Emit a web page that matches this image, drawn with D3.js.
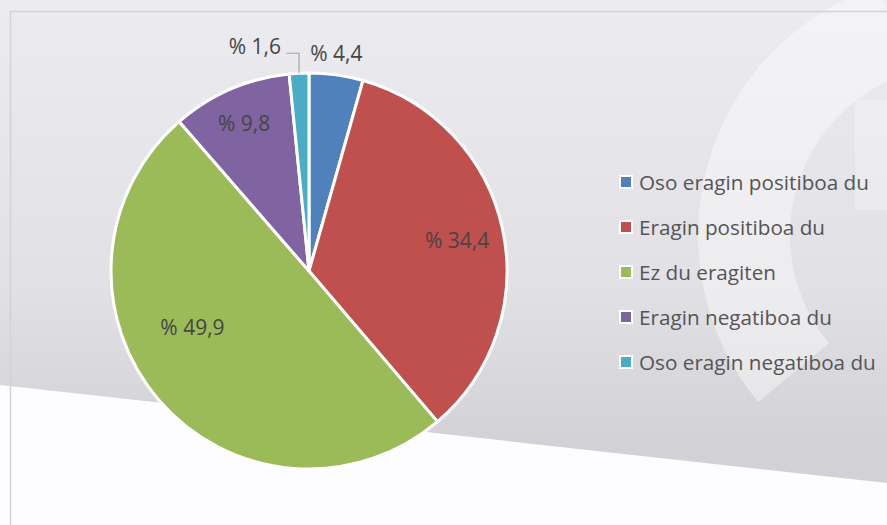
<!DOCTYPE html>
<html>
<head>
<meta charset="utf-8">
<script src="https://cdn.jsdelivr.net/npm/d3@7"></script>
<style>
  html, body { margin: 0; padding: 0; background: #efeff1; }
  svg { display: block; }
</style>
</head>
<body>
<svg width="887" height="525"></svg>
<script>
const categories = [
  "Oso eragin positiboa du",
  "Eragin positiboa du",
  "Ez du eragiten",
  "Eragin negatiboa du",
  "Oso eragin negatiboa du"
];
const values = [4.4, 34.4, 49.9, 9.8, 1.6];
const labels = ["% 4,4", "% 34,4", "% 49,9", "% 9,8", "% 1,6"];
const colors = ["#4f81bd", "#c0504d", "#9bbb59", "#8064a2", "#4bacc6"];

const svg = d3.select("svg");
const width = +svg.attr("width");
const height = +svg.attr("height");
const cx = 309;
const cy = 271;
const radius = 198;
const textColor = "#454545";
const font = "'Open Sans', sans-serif";

// background, roughly the slide behind the chart
const defs = svg.append("defs");
const bg = defs.append("linearGradient")
  .attr("id", "bg")
  .attr("x1", 0).attr("y1", 0).attr("x2", 0).attr("y2", 1);
bg.append("stop").attr("offset", "0%").attr("stop-color", "#ecebef");
bg.append("stop").attr("offset", "55%").attr("stop-color", "#e1e0e5");
bg.append("stop").attr("offset", "85%").attr("stop-color", "#d2d1d6");

svg.append("rect")
  .attr("x", 0).attr("y", 0)
  .attr("width", width).attr("height", height)
  .attr("fill", "url(#bg)");

// watermark arc on the right
svg.append("path")
  .attr("transform", "translate(960,235)")
  .attr("d", d3.arc()({
    innerRadius: 170,
    outerRadius: 262,
    startAngle: -Math.PI * 0.72,
    endAngle: -Math.PI * 0.1
  }))
  .attr("fill", "#ffffff")
  .attr("opacity", 0.4);

svg.append("rect")
  .attr("x", 855).attr("y", 100)
  .attr("width", 40).attr("height", 110)
  .attr("fill", "#ffffff")
  .attr("opacity", 0.25);

// white area under the diagonal
svg.append("path")
  .attr("d", `M0,385 L${width},483 L${width},${height} L0,${height} Z`)
  .attr("fill", "#fdfcfe");

// chart frame
svg.append("path")
  .attr("d", `M10.5,${height} L10.5,11.5 L${width},11.5`)
  .attr("fill", "none")
  .attr("stroke", "#d3d3d7")
  .attr("stroke-width", 1.5);

// pie
const pie = d3.pie().sort(null).value(d => d);
const arcs = pie(values);
const arc = d3.arc().innerRadius(0).outerRadius(radius);

const g = svg.append("g")
  .attr("transform", `translate(${cx},${cy})`);

g.selectAll("path.slice")
  .data(arcs)
  .join("path")
  .attr("class", "slice")
  .attr("d", arc)
  .attr("fill", (d, i) => colors[i])
  .attr("stroke", "#ffffff")
  .attr("stroke-width", 3)
  .attr("stroke-linejoin", "round");

// data labels
const inner = d3.arc().innerRadius(radius * 0.75).outerRadius(radius * 0.75);
const outer = d3.arc().innerRadius(radius + 22).outerRadius(radius + 22);
const nudge = [[0, 0], [3, 1], [-4, -41], [-6, -12], [0, 0]];
const labelSize = 21;

[1, 2, 3].forEach(i => {
  const [x, y] = inner.centroid(arcs[i]);
  g.append("text")
    .attr("x", x + nudge[i][0])
    .attr("y", y + nudge[i][1])
    .attr("text-anchor", "middle")
    .attr("dominant-baseline", "central")
    .attr("font-family", font)
    .attr("font-size", labelSize)
    .attr("fill", textColor)
    .text(labels[i]);
});

{
  const [x, y] = outer.centroid(arcs[0]);
  g.append("text")
    .attr("x", x - 3)
    .attr("y", y)
    .attr("text-anchor", "middle")
    .attr("dominant-baseline", "central")
    .attr("font-family", font)
    .attr("font-size", labelSize)
    .attr("fill", textColor)
    .text(labels[0]);
}

{
  const a = (arcs[4].startAngle + arcs[4].endAngle) / 2;
  const px = radius * Math.sin(a);
  const py = -radius * Math.cos(a);
  const ly = py - 20;
  g.append("path")
    .attr("d", `M${px},${py} L${px},${ly} L${px - 13},${ly}`)
    .attr("fill", "none")
    .attr("stroke", "#a6a6a6")
    .attr("stroke-width", 1.2);
  g.append("text")
    .attr("x", px - 18)
    .attr("y", ly + 1)
    .attr("text-anchor", "end")
    .attr("font-family", font)
    .attr("font-size", labelSize)
    .attr("fill", textColor)
    .text(labels[4]);
}

// legend
const legend = svg.append("g")
  .attr("transform", "translate(620,182)");

const row = legend.selectAll("g")
  .data(categories)
  .join("g")
  .attr("transform", (d, i) => `translate(0,${i * 45})`);

row.append("rect")
  .attr("x", 0).attr("y", -6)
  .attr("width", 12).attr("height", 12)
  .attr("fill", (d, i) => colors[i])
  .attr("stroke", "#ffffff")
  .attr("stroke-width", 2);

row.append("text")
  .attr("x", 19)
  .attr("y", 8)
  .attr("font-family", font)
  .attr("font-size", 20.7)
  .attr("fill", "#555555")
  .text(d => d);
</script>
</body>
</html>
